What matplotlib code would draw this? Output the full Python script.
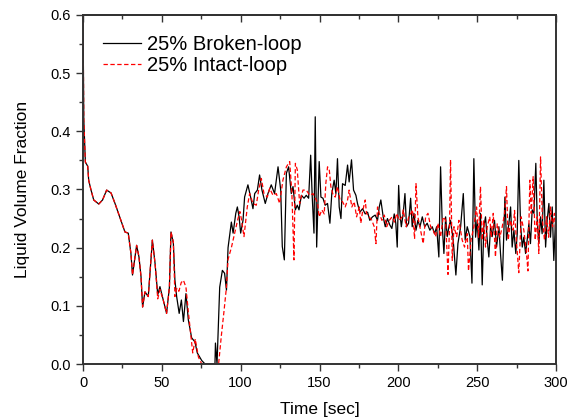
import numpy as np
import matplotlib
matplotlib.use('Agg')
import matplotlib.pyplot as plt
from matplotlib.ticker import MultipleLocator, FormatStrFormatter

plt.rcParams['font.family'] = ['Liberation Sans', 'DejaVu Sans']

# 25% broken-loop (time [s], liquid volume fraction)
t_broken = [0, 0.5, 1.5, 3.0, 3.6, 5.0, 6.8, 10, 12.4, 15, 17.8, 20.3, 23.5, 26.6, 28.7,
            30.4, 31.4, 34, 35.5, 36.8, 37.8, 39.3, 41.4, 44, 45.7, 47.4, 48.8, 50.9, 53,
            54.8, 55.8, 57.3, 58.3, 59.4, 61, 62.4, 63.7, 65.3, 66.8, 68.9, 71, 72.5, 75.3,
            77.4, 83.7, 84, 85, 86.7, 88.4, 89.8, 91, 92, 94.1, 95.2, 96.9, 97.9, 99, 100,
            101.5, 102.5, 104.6, 106.3, 107.8, 108.9, 110.6, 112, 113.5, 115.6, 117.3, 119.4,
            121.5, 123.7, 125.4, 126.4, 127.7, 129, 130.4, 132.1, 133.2, 134.7, 135.9, 137,
            138.5, 140.2, 141.6, 143.1, 144.4, 145.4, 146.5, 147.3, 148.2, 149.8, 150.9, 152.2,
            153.6, 155.1, 156.6, 157.8, 159.3, 160.4, 161.4, 162.5, 163.6, 164.6, 166.3, 167.8,
            168.8, 170.3, 171.6, 173.1, 174.1, 175.6, 177.3, 179, 180.5, 181.9, 183.6, 185.3,
            186.8, 187.9, 188.9, 190.4, 191.7, 193.1, 194.6, 195.9, 197.4, 198.4, 199.3, 200.2,
            201, 201.9, 203.1, 204.2, 205.2, 206.5, 207.8, 208.8, 209.9, 211.2, 212.4, 213.7,
            215.2, 216.7, 218.3, 220, 221.5, 223, 224.3, 225.7, 226.8, 227.9, 228.9, 230, 231,
            232.1, 233.1, 234.8, 236.5, 237.8, 239.5, 241.2, 242.4, 243.7, 245.4, 246.7, 247.9,
            249, 250, 251.1, 252.1, 253.2, 254.2, 255.3, 256.4, 257.4, 258.5, 259.5, 261, 262.3,
            263.8, 264.8, 266, 267.6, 268.6, 270.1, 271.2, 272.2, 273.3, 274.5, 275.4, 276.4,
            277.5, 278.6, 279.6, 280.7, 281.7, 282.8, 283.8, 284.9, 286, 287.2, 288.1, 289.1,
            290.2, 291.2, 292.3, 293.4, 294.4, 295.5, 296.5, 297.6, 298.6, 299.7, 300]
v_broken = [0.60, 0.42, 0.347, 0.34, 0.316, 0.30, 0.282, 0.275, 0.282, 0.299, 0.294, 0.276,
            0.251, 0.227, 0.225, 0.19, 0.153, 0.204, 0.184, 0.15, 0.098, 0.124, 0.116, 0.213,
            0.173, 0.119, 0.133, 0.110, 0.087, 0.132, 0.227, 0.208, 0.144, 0.116, 0.087, 0.110,
            0.073, 0.121, 0.076, 0.045, 0.038, 0.019, 0.006, 0.0, 0.0, 0.036, 0.0, 0.132, 0.161,
            0.156, 0.127, 0.2, 0.244, 0.225, 0.259, 0.27, 0.253, 0.225, 0.247, 0.287, 0.308,
            0.287, 0.267, 0.293, 0.299, 0.325, 0.299, 0.276, 0.293, 0.308, 0.293, 0.339, 0.299,
            0.202, 0.179, 0.328, 0.339, 0.293, 0.305, 0.265, 0.273, 0.265, 0.29, 0.285, 0.29,
            0.285, 0.359, 0.287, 0.225, 0.425, 0.201, 0.348, 0.287, 0.285, 0.273, 0.276, 0.242,
            0.293, 0.316, 0.293, 0.353, 0.27, 0.25, 0.31, 0.307, 0.342, 0.313, 0.351, 0.299,
            0.29, 0.276, 0.261, 0.267, 0.258, 0.261, 0.247, 0.253, 0.256, 0.247, 0.27, 0.282,
            0.253, 0.236, 0.25, 0.239, 0.233, 0.258, 0.242, 0.201, 0.307, 0.259, 0.236, 0.259,
            0.293, 0.236, 0.242, 0.285, 0.236, 0.259, 0.23, 0.247, 0.236, 0.253, 0.236, 0.242,
            0.23, 0.236, 0.224, 0.236, 0.184, 0.339, 0.236, 0.19, 0.253, 0.219, 0.236, 0.247,
            0.213, 0.153, 0.207, 0.236, 0.293, 0.213, 0.236, 0.219, 0.139, 0.353, 0.218, 0.247,
            0.196, 0.259, 0.136, 0.236, 0.253, 0.213, 0.184, 0.236, 0.219, 0.247, 0.201, 0.236,
            0.19, 0.144, 0.287, 0.213, 0.241, 0.27, 0.201, 0.23, 0.19, 0.224, 0.35, 0.241, 0.201,
            0.218, 0.19, 0.213, 0.241, 0.207, 0.265, 0.259, 0.345, 0.247, 0.207, 0.253, 0.224,
            0.316, 0.201, 0.247, 0.276, 0.218, 0.27, 0.178, 0.247, 0.21]

# 25% intact-loop
t_intact = [0, 0.5, 1.5, 3.0, 3.6, 5.0, 6.8, 10, 12.4, 15, 17.8, 20.3, 23.5, 26.6, 28.7,
            30.4, 31.4, 34, 35.5, 36.8, 37.8, 39.3, 41.4, 44, 45.7, 47.4, 48.8, 50.9, 53,
            54.8, 55.8, 57.3, 58.3, 59.5, 60.8, 62.3, 63.7, 65.3, 66.8, 68, 69.6, 71.2, 73.2,
            75.3, 86, 87.8, 89.4, 90.9, 92, 94.1, 96.2, 98.3, 99.5, 100.4, 102.1, 104.2, 105.7,
            107.8, 109.9, 111.4, 113.1, 114.8, 116.9, 118.4, 120.5, 122.6, 124.7, 126.8, 129,
            131.1, 132.5, 133.8, 134.7, 135.9, 137.4, 139.5, 141.6, 143.8, 145.9, 147.9, 148.8,
            149.8, 151.5, 153, 154, 155.1, 156.2, 157.2, 158.7, 160, 161.4, 163, 164.6, 166.3,
            167.8, 168.8, 170.5, 172, 173.5, 175.2, 176.2, 177.3, 179, 179.8, 181.5, 183.2,
            184.7, 185.8, 186.8, 187.9, 189.6, 191.1, 192.6, 194.3, 196, 197.6, 199, 200.5,
            202.4, 203.1, 205, 206.6, 208, 209, 210.3, 211.2, 212.4, 214.1, 215.8, 217.3, 218.8,
            220.5, 222.1, 223.6, 225.1, 226.8, 228.5, 230, 231.5, 232.5, 233.1, 234.2, 235.3,
            237, 238.4, 240.5, 242, 243.7, 244.5, 246.1, 247.9, 249.6, 250.9, 252.1, 253.2,
            254.2, 255.3, 256.4, 258, 258.9, 260.2, 261.6, 262.7, 264.4, 265.9, 267.4, 268.6,
            269.7, 271.2, 272.8, 273.7, 275, 276.4, 277.9, 279.6, 281.1, 282.2, 283.4, 284.3,
            285.5, 286.8, 288.1, 289.1, 290.2, 291.4, 292.7, 294, 295.3, 296.5, 297.8, 299, 300]
v_intact = [0.60, 0.42, 0.347, 0.34, 0.316, 0.30, 0.282, 0.275, 0.282, 0.299, 0.294, 0.276,
            0.251, 0.227, 0.225, 0.19, 0.153, 0.204, 0.184, 0.15, 0.098, 0.124, 0.116, 0.213,
            0.173, 0.112, 0.128, 0.110, 0.087, 0.132, 0.227, 0.21, 0.116, 0.13, 0.125, 0.14,
            0.144, 0.132, 0.09, 0.06, 0.019, 0.043, 0.012, 0.0, 0.0, 0.05, 0.09, 0.13, 0.18,
            0.2, 0.225, 0.25, 0.262, 0.25, 0.219, 0.27, 0.293, 0.276, 0.273, 0.299, 0.319,
            0.293, 0.287, 0.302, 0.29, 0.293, 0.276, 0.316, 0.339, 0.348, 0.293, 0.179, 0.345,
            0.334, 0.276, 0.299, 0.299, 0.29, 0.293, 0.282, 0.276, 0.253, 0.265, 0.258, 0.31,
            0.339, 0.334, 0.305, 0.29, 0.287, 0.305, 0.282, 0.279, 0.27, 0.282, 0.299, 0.27,
            0.279, 0.253, 0.27, 0.242, 0.262, 0.282, 0.259, 0.253, 0.247, 0.236, 0.207, 0.27,
            0.259, 0.247, 0.256, 0.236, 0.247, 0.253, 0.244, 0.259, 0.247, 0.253, 0.265, 0.236,
            0.253, 0.259, 0.265, 0.215, 0.31, 0.253, 0.23, 0.207, 0.253, 0.259, 0.236, 0.23,
            0.219, 0.242, 0.219, 0.253, 0.247, 0.154, 0.24, 0.351, 0.178, 0.236, 0.219, 0.247,
            0.213, 0.201, 0.224, 0.16, 0.213, 0.236, 0.27, 0.218, 0.305, 0.213, 0.247, 0.201,
            0.236, 0.253, 0.218, 0.259, 0.184, 0.241, 0.218, 0.236, 0.259, 0.305, 0.213, 0.247,
            0.23, 0.264, 0.207, 0.157, 0.253, 0.23, 0.196, 0.16, 0.316, 0.259, 0.322, 0.213,
            0.253, 0.19, 0.356, 0.247, 0.213, 0.253, 0.218, 0.27, 0.236, 0.259, 0.22]

fig = plt.figure(figsize=(5.74, 4.2), dpi=100)
ax = fig.add_axes([83 / 574, 1 - 364 / 420, 473 / 574, 349 / 420])

ax.plot(t_broken, v_broken, color='black', lw=0.9, label='25% Broken-loop')
ax.plot(t_intact, v_intact, color='red', lw=0.9, ls=(0, (3.5, 2)), label='25% Intact-loop')

ax.set_xlim(0, 300)
ax.set_ylim(0, 0.6)
ax.xaxis.set_major_locator(MultipleLocator(50))
ax.xaxis.set_minor_locator(MultipleLocator(25))
ax.yaxis.set_major_locator(MultipleLocator(0.1))
ax.yaxis.set_minor_locator(MultipleLocator(0.05))
ax.yaxis.set_major_formatter(FormatStrFormatter('%.1f'))

for s in ax.spines.values():
    s.set_linewidth(1.4)
    s.set_color('#333333')
ax.tick_params(which='both', direction='out', labelsize=10.5, color='#333333', width=1.0,
               top=False, right=False)
ax.tick_params(which='major', length=5)
ax.tick_params(which='minor', length=3)

# top axis: ticks pointing inward, no labels
top = ax.secondary_xaxis('top')
top.xaxis.set_major_locator(MultipleLocator(50))
top.xaxis.set_minor_locator(MultipleLocator(25))
top.tick_params(which='both', direction='in', labeltop=False, color='#333333', width=1.0)
top.tick_params(which='major', length=5)
top.tick_params(which='minor', length=3)
top.spines['top'].set_linewidth(1.4)
top.spines['top'].set_color('#333333')

ax.set_xlabel('Time [sec]', fontsize=12.5, labelpad=9)
ax.set_ylabel('Liquid Volume Fraction', fontsize=12.5, labelpad=15)

ax.legend(loc='upper left', frameon=False, fontsize=14.5, handlelength=1.9,
          handletextpad=0.3, borderaxespad=0.6, borderpad=0.4, labelspacing=0.08)

fig.savefig('out.png', dpi=100)
